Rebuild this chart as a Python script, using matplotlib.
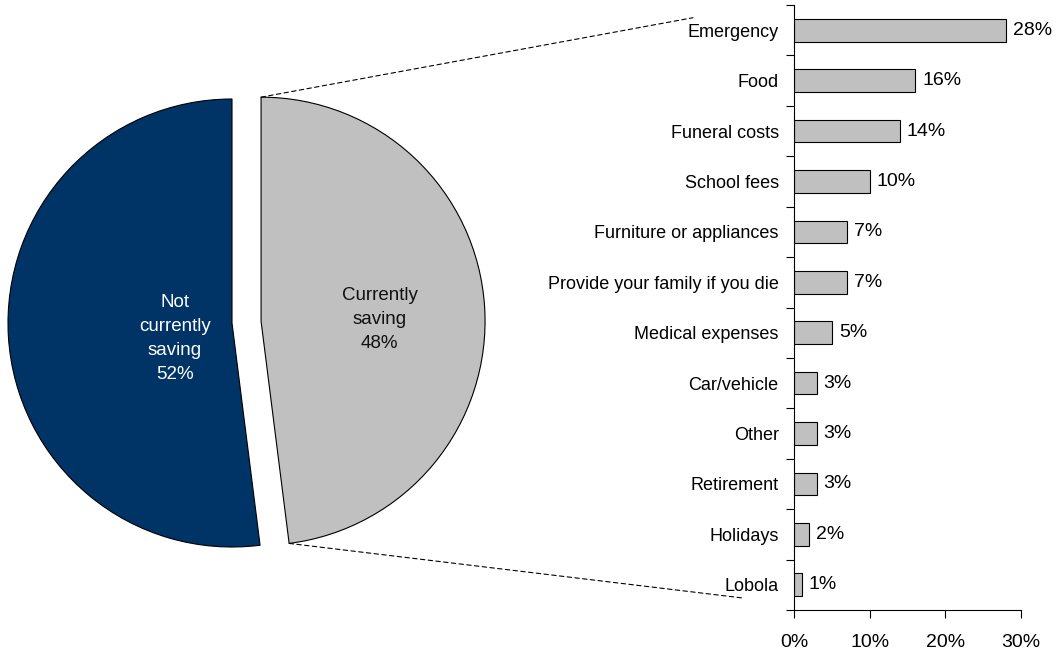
import numpy as np
import matplotlib
matplotlib.use("Agg")
from matplotlib import pyplot as plt
from matplotlib.patches import ConnectionPatch

plt.rcParams['font.family'] = ['Liberation Sans', 'DejaVu Sans']
plt.rcParams['font.size'] = 13

# saving status split
pie_labels = ["Not\ncurrently\nsaving", "Currently\nsaving"]
pie_values = [52, 48]
pie_colors = ["#003366", "#c0c0c0"]
pie_text_colors = ["white", "#111111"]

# what the savers are saving for
reasons = ["Emergency", "Food", "Funeral costs", "School fees",
           "Furniture or appliances", "Provide your family if you die",
           "Medical expenses", "Car/vehicle", "Other", "Retirement",
           "Holidays", "Lobola"]
shares = [28, 16, 14, 10, 7, 7, 5, 3, 3, 3, 2, 1]
x_ticks = [0, 10, 20, 30]

W, H = 1056, 652
fig = plt.figure(figsize=(W / 100, H / 100), dpi=100)

# pie axes laid out in pixels so one data unit = 224 px
r_px = 224
cx, cy = 232, 323
left, right, top, bottom = 0, 490, 62, 586
ax_pie = fig.add_axes([left / W, 1 - bottom / H, (right - left) / W, (bottom - top) / H])
ax_pie.axis("off")

wedges, _ = ax_pie.pie(pie_values, colors=pie_colors, startangle=90,
                       counterclock=True, explode=[0, 0.13],
                       wedgeprops=dict(edgecolor="black", linewidth=0.8))
ax_pie.set_xlim(-(cx - left) / r_px, (right - cx) / r_px)
ax_pie.set_ylim(-(bottom - cy) / r_px, (cy - top) / r_px)
ax_pie.set_aspect("auto")

label_pos = [(-0.255, -0.07), (0.66, 0.015)]
for lab, val, col, (tx, ty) in zip(pie_labels, pie_values, pie_text_colors, label_pos):
    ax_pie.text(tx, ty, f"{lab}\n{val}%", color=col, ha="center", va="center",
                fontsize=13.5, linespacing=1.55)

# bar chart
ax_bar = fig.add_axes([794 / W, 1 - 610 / H, (1021 - 794) / W, (610 - 5) / H])
y = np.arange(len(reasons))
bars = ax_bar.barh(y, shares, height=0.45, color="#c0c0c0", edgecolor="black", linewidth=0.8)
ax_bar.bar_label(bars, labels=[f"{v}%" for v in shares], padding=5, fontsize=14)
ax_bar.set_xlim(0, 30)
ax_bar.set_ylim(len(reasons) - 0.5, -0.5)
ax_bar.set_xticks(x_ticks)
ax_bar.set_xticklabels([f"{t}%" for t in x_ticks], fontsize=14)
ax_bar.set_yticks(y)
ax_bar.set_yticklabels(reasons)
ax_bar.set_yticks(np.arange(len(reasons) + 1) - 0.5, minor=True)
ax_bar.tick_params(axis="y", which="major", length=0, pad=11)
ax_bar.tick_params(axis="y", which="minor", length=6, width=0.8, direction="out")
ax_bar.tick_params(axis="x", length=6, width=0.8, direction="out", pad=11)
for s in ["top", "right"]:
    ax_bar.spines[s].set_visible(False)
for s in ["left", "bottom"]:
    ax_bar.spines[s].set_linewidth(0.8)

# dashed leader lines from the saving slice to the bar chart
w = wedges[1]
wc = np.array(w.center)
for ang, xy_b in [(w.theta2, (-0.445, 0.979)), (w.theta1, (-0.229, 0.02))]:
    p = wc + w.r * np.array([np.cos(np.radians(ang)), np.sin(np.radians(ang))])
    con = ConnectionPatch(xyA=p, coordsA="data", axesA=ax_pie,
                          xyB=xy_b, coordsB="axes fraction", axesB=ax_bar,
                          linestyle=(0, (4, 3)), linewidth=0.8, color="black")
    fig.add_artist(con)

fig.savefig("out.png", dpi=100)
